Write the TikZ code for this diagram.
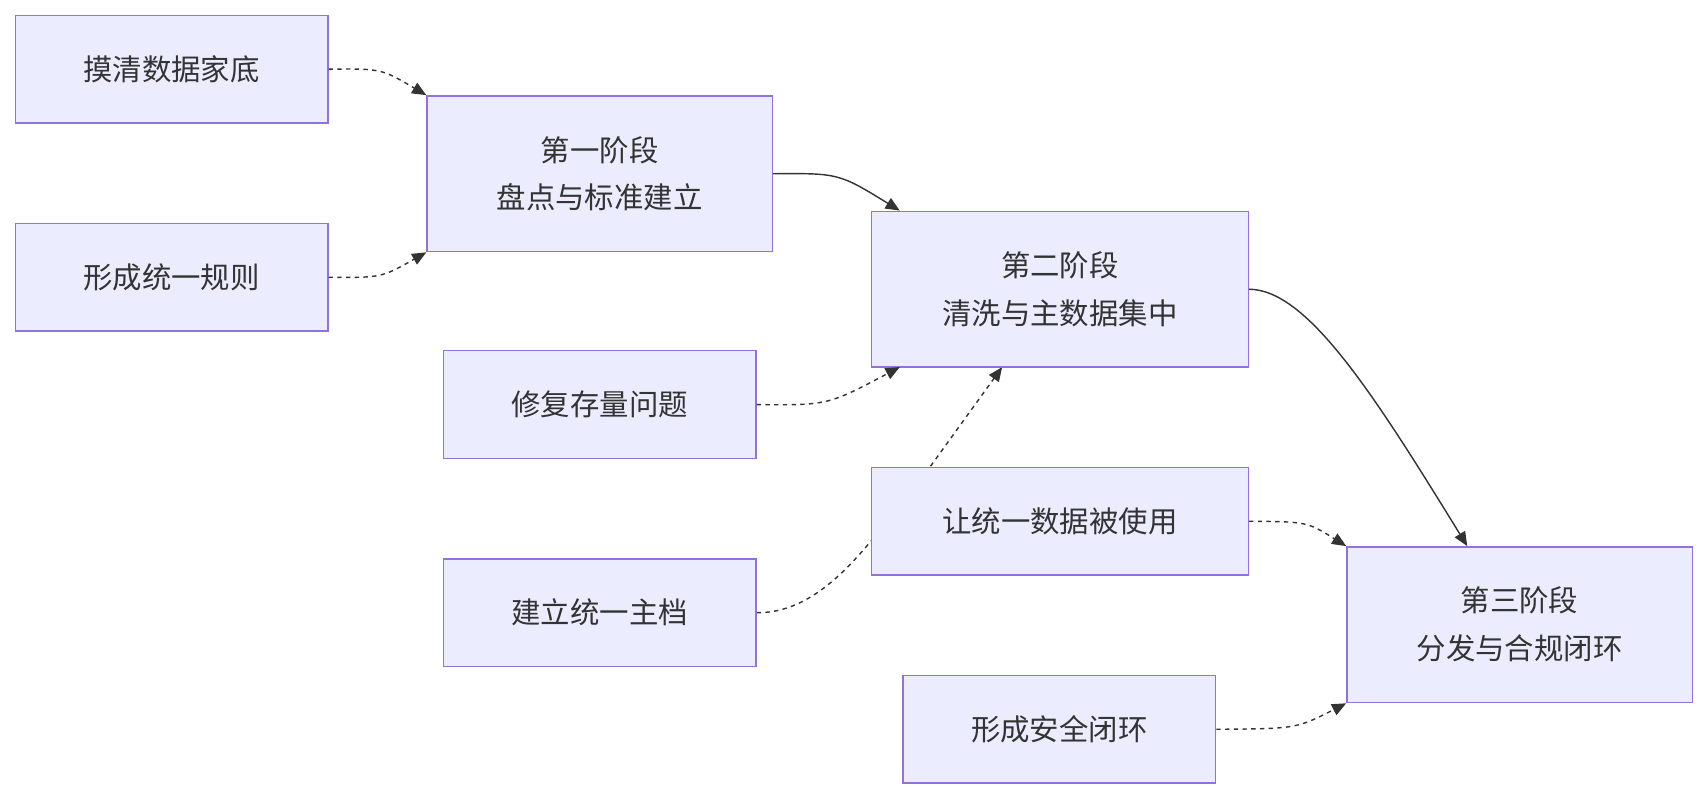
\documentclass[tikz,border=0pt]{standalone}
\usepackage{fontspec}
\setmainfont{Noto Sans CJK SC}
\usetikzlibrary{positioning,arrows.meta,backgrounds}
\definecolor{boxfill}{HTML}{ECECFF}
\definecolor{boxline}{HTML}{9370DB}
\definecolor{edgecol}{HTML}{333333}
\tikzset{box/.style = {rectangle,draw=boxline,fill=boxfill,line width=1.3pt,align=center,
    text=edgecol,font=\fontsize{27}{44}\selectfont,inner sep=0pt},
  small/.style = {box,minimum width=287pt,minimum height=99pt},
  phase/.style = {box,minimum width=317pt,minimum height=143pt},
  flow/.style = {draw=edgecol,line width=1.3pt,-{Triangle[length=13pt,width=11pt]}},
  hint/.style = {flow,dash pattern=on 4pt off 4pt}}

\begin{document}
\begin{tikzpicture}[x=1pt,y=-1pt]
        \useasboundingbox (0,0) rectangle (1568,735);
        \node [small] (survey) at (157.5,63.5)  {摸清数据家底};
        \node [small] (rules)  at (157.5,254.5) {形成统一规则};
        \node [phase] (one)    at (550.5,159.5) {第一阶段\\盘点与标准建立};
        \node [phase,minimum width=346pt] (two) at (973,265.5) {第二阶段\\清洗与主数据集中};
        \node [small] (repair) at (550.5,371.5) {修复存量问题};
        \node [small,minimum width=346pt] (use) at (973,478.5) {让统一数据被使用};
        \node [small] (master) at (550.5,562.5) {建立统一主档};
        \node [phase] (three)  at (1395,573.5) {第三阶段\\分发与合规闭环};
        \node [small] (secure) at (972.5,669.5) {形成安全闭环};

        \draw [hint] (survey.east) .. controls (350,63) .. (one.north west);
        \draw [hint] (rules.east) .. controls (350,255) .. (one.south west);
        \draw [flow] (one.east) .. controls (770,159) .. (two.north west -| 826,0);
        \draw [hint] (repair.east) .. controls (760,372) .. (826,337);
        \draw [hint] (use.east) .. controls (1200,479) .. (three.north west);
        \draw [flow] (two.east) .. controls (1200,266) and (1260,360) .. (three.north -| 1347,0);
        \draw [hint] (secure.east) .. controls (1190,669) .. (three.south west);
        \begin{scope}[on background layer]
            \coordinate (via) at (827,462);
            \draw [hint] (master.east) .. controls (750,563) and (790,510) .. (via)
                -- (855,427) -- (920,337);
        \end{scope}
    \end{tikzpicture}
\end{document}
